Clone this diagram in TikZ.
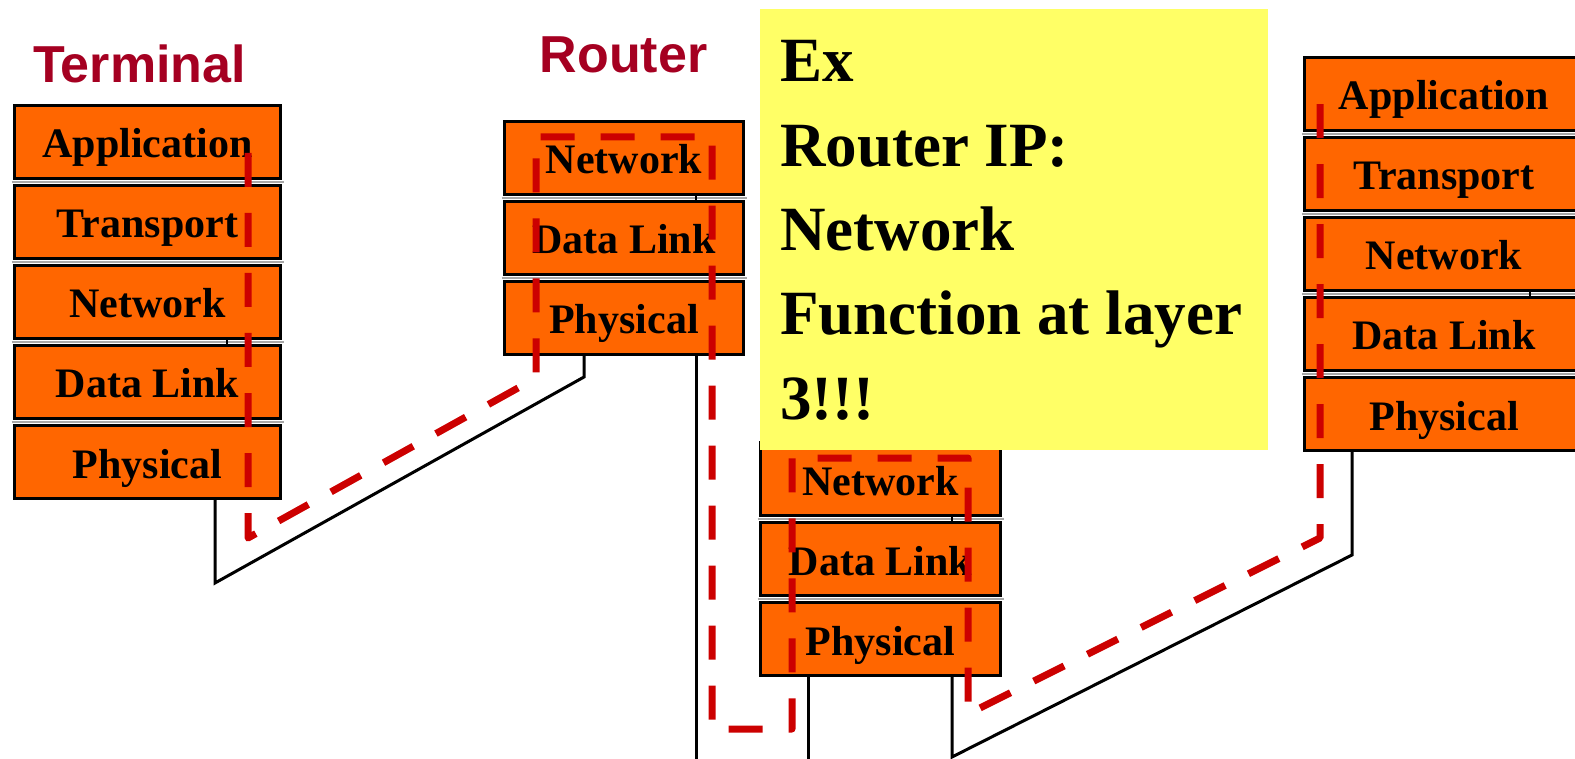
\documentclass[tikz,border=0pt]{standalone}
\usepackage{fontspec}
\setmainfont{Liberation Serif}
\newfontfamily\titlefont{Liberation Sans}
\usetikzlibrary{calc,backgrounds}
\definecolor{layerorange}{HTML}{FF6600}
\definecolor{tracered}{HTML}{CC0000}
\definecolor{titlered}{HTML}{A50021}
\definecolor{noteyellow}{HTML}{FFFF66}
\definecolor{sepgray}{HTML}{A8A8A8}

\begin{document}
\begin{tikzpicture}[x=1pt,y=-1pt,
  layer/.style={draw=black, line width=3pt, fill=layerorange, inner sep=0pt,
    text height=32pt, text depth=0pt, minimum height=73pt,
    font=\bfseries\fontsize{42}{42}\selectfont},
  sepline/.style={draw=sepgray, line width=1.5pt},
  tickline/.style={draw=black, line width=1.5pt},
  wire/.style={draw=black, line width=3pt},
  trace/.style={draw=tracered, line width=7pt, dash pattern=on 34pt off 26pt, line join=round},
  note/.style={fill=noteyellow, inner sep=0pt, minimum width=508pt, minimum height=441pt},
  notetext/.style={inner sep=0pt, anchor=base west, font=\bfseries\fontsize{63}{63}\selectfont},
  title/.style={inner sep=0pt, anchor=base, text=titlered, font=\titlefont\bfseries\fontsize{52}{52}\selectfont}]

\useasboundingbox (0,0) rectangle (1575,759);

% layer stacks: name/label pairs
\def\stackT{tapp/Application,ttra/Transport,tnet/Network,tdl/Data Link,tphy/Physical}
\def\stackR{rnet/Network,rdl/Data Link,rphy/Physical}
\def\stackS{snet/Network,sdl/Data Link,sphy/Physical}
\def\stackA{aapp/Application,atra/Transport,anet/Network,adl/Data Link,aphy/Physical}

% wire bend points
\coordinate (tbend) at (215,583);
\coordinate (rbend) at (584,377);
\coordinate (sbend) at (952,757);
\coordinate (abend) at (1352,555);

% ---------- layer boxes ----------
\foreach \n/\t [count=\i] in \stackT
  \node[layer, minimum width=266pt] (\n) at (147.5,{142+80*(\i-1)}) {\t};
\foreach \n/\t [count=\i] in \stackR
  \node[layer, minimum width=239pt] (\n) at (624,{158+80*(\i-1)}) {\t};
\foreach \n/\t [count=\i] in \stackS
  \node[layer, minimum width=240pt] (\n) at (880.5,{479+80*(\i-1)}) {\t};
\foreach \n/\t [count=\i] in \stackA
  \node[layer, minimum width=279pt] (\n) at (1444,{94+80*(\i-1)}) {\t};

% gaps between layers
\foreach \a/\b in {tapp/ttra,ttra/tnet,tnet/tdl,tdl/tphy,rnet/rdl,rdl/rphy,snet/sdl,sdl/sphy,aapp/atra,atra/anet,anet/adl,adl/aphy}
  \draw[sepline] ($(\a.south west)!0.5!(\b.north west)+(-1.5,0)$) -- ($(\a.south east)!0.5!(\b.north east)+(1.5,0)$);

% small stubs in the gaps
\draw[tickline] ($(tnet.south)+(79.5,0)$) -- ($(tdl.north)+(79.5,0)$);
\draw[tickline] ($(rnet.south)+(72,0)$) -- ($(rdl.north)+(72,0)$);
\draw[tickline] ($(snet.south)+(71.5,0)$) -- ($(sdl.north)+(71.5,0)$);
\draw[tickline] ($(anet.south)+(86,0)$) -- ($(adl.north)+(86,0)$);

% cables between the stacks, behind the boxes
\begin{pgfonlayer}{background}
\draw[wire] ($(tphy.south)+(67.5,0)$) -- (tbend) -- (rbend) -- ($(rphy.south)+(-40,0)$);
\draw[wire] ($(rphy.south)+(72,0)$) -- ++(0,410);
\draw[wire] ($(sphy.south)+(-72.5,0)$) -- ++(0,100);
\draw[wire] ($(sphy.south)+(71.5,0)$) -- (sbend) -- (abend) -- ($(aphy.south)+(-92,0)$);
\end{pgfonlayer}

% ---------- data path through the layers ----------
\coordinate (p0) at (248,153);
\coordinate (p1) at (248,538);
\coordinate (p2) at (536,378);
\coordinate (p3) at (536,137);
\coordinate (p4) at (712,137);
\coordinate (p5) at (712,729);
\coordinate (p6) at (792,729);
\coordinate (p7) at (792,458);
\coordinate (p8) at (968,458);
\coordinate (p9) at (968,714);
\coordinate (p10) at (1320,538);
\coordinate (p11) at (1320,90);
\draw[trace] (p0) -- (p1) -- (p2) -- (p3) -- (p4) -- (p5) -- (p6) -- (p7) -- (p8) -- (p9) -- (p10) -- (p11);

% ---------- note ----------
\node[note] (note) at (1014,229.5) {};
\node[notetext] (n1) at (780,82) {Ex};
\node[notetext] (n2) at (780,167) {Router IP:};
\node[notetext] (n3) at (780,251) {Network};
\node[notetext] (n4) at (780,335) {Function at layer};
\node[notetext] (n5) at (780,419) {3!!!};

% ---------- titles ----------
\node[title] (tterm) at (139.5,83) {Terminal};
\node[title] (trouter) at (623.5,73) {Router};
\end{tikzpicture}
\end{document}
